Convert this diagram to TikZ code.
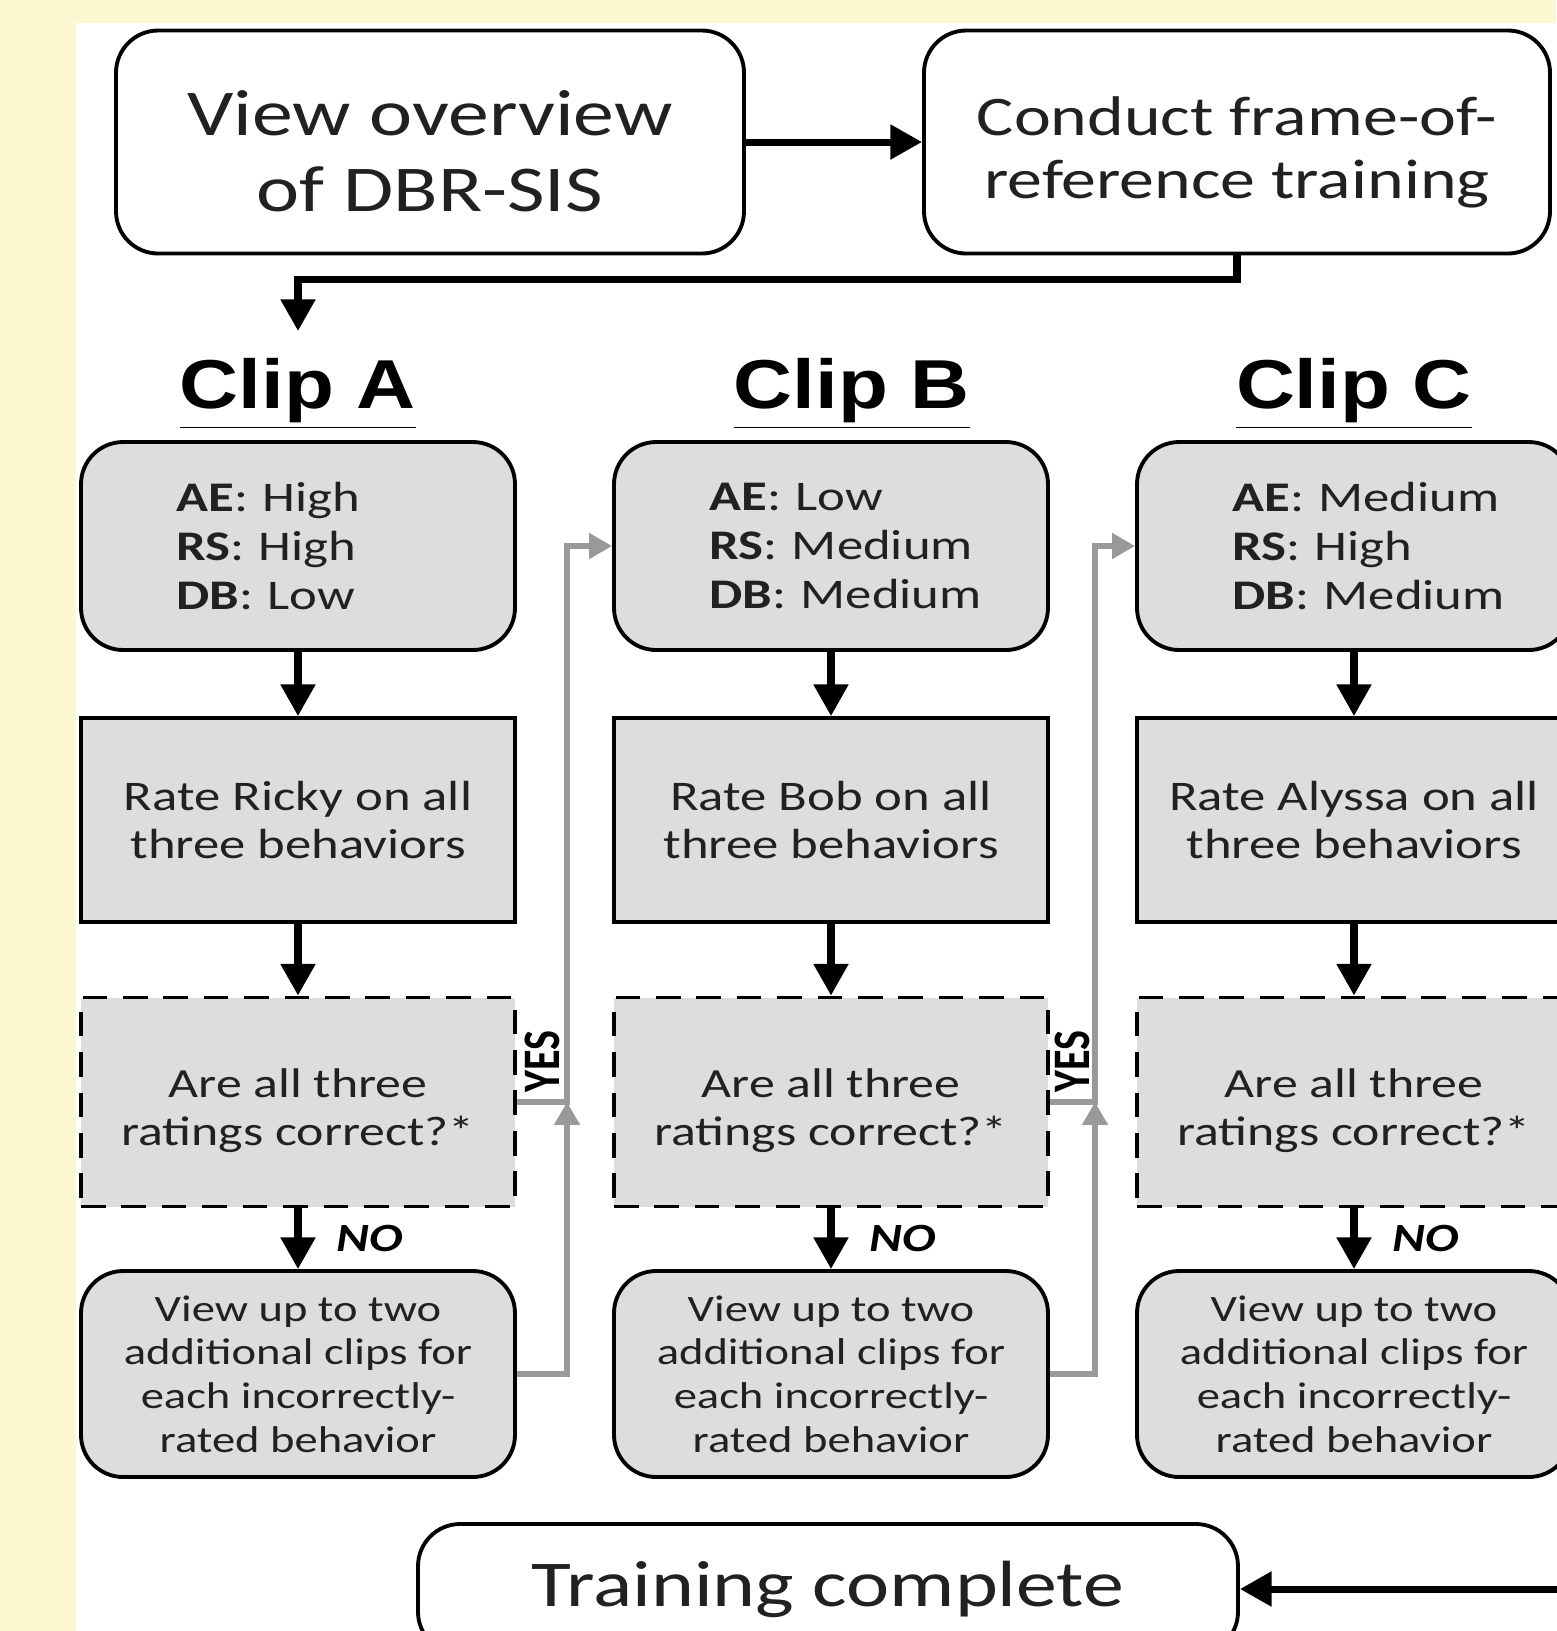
\documentclass[tikz,border=0pt]{standalone}
\usepackage{fontspec}
\usepackage{graphicx}
\setmainfont{Carlito}[FakeStretch=1.25]
\newfontfamily\headfont{Liberation Sans}[FakeStretch=1.18]
\newfontfamily\yesfont{Carlito}
\usetikzlibrary{arrows.meta,positioning}
\definecolor{paper}{rgb}{0.98, 0.969, 0.82}
\definecolor{boxgray}{rgb}{0.867, 0.867, 0.867}
\definecolor{linegray}{rgb}{0.6, 0.6, 0.6}
\definecolor{ink}{rgb}{0.13, 0.13, 0.13}
\tikzstyle{topbox}=[draw,line width=1.1pt,rounded corners=12pt,fill=white,minimum height=22.3mm,align=center,text=ink]
\tikzstyle{rowbox}=[draw,line width=1.1pt,fill=boxgray,minimum width=43.4mm,align=center,text=ink]
\tikzstyle{ratingsbox}=[rowbox,rounded corners=12pt,minimum height=20.8mm,align=left,text width=69pt,inner xsep=27pt,font=\fontsize{12}{14}\selectfont]
\tikzstyle{ratebox}=[rowbox,minimum height=20.4mm,font=\fontsize{12}{13.7}\selectfont]
\tikzstyle{checkbox}=[rowbox,dash pattern=on 7pt off 4.5pt,minimum height=20.9mm,font=\fontsize{11.8}{13.6}\selectfont]
\tikzstyle{reviewbox}=[rowbox,rounded corners=12pt,minimum height=20.6mm,font=\fontsize{10.6}{12.4}\selectfont]
\tikzstyle{cliphead}=[inner sep=0pt,font=\headfont\bfseries\fontsize{19.7}{23}\selectfont]
\tikzstyle{blackarrow}=[line width=2pt,-{Triangle[width=9.5pt,length=9pt]}]
\tikzstyle{yesline}=[linegray,line width=1.6pt]
\tikzstyle{yesarrow}=[yesline,-{Triangle[width=7pt,length=6.5pt]}]
\tikzstyle{yeslabel}=[black,rotate=90,anchor=west,inner sep=2pt,font=\yesfont\bfseries\fontsize{12}{12}\selectfont]
\tikzstyle{nolabel}=[right=10pt,inner sep=0pt,font=\bfseries\itshape\fontsize{11.4}{12}\selectfont]
% strut that pushes a box text a little down
\newcommand{\lowered}[1]{\rule{0pt}{#1}}
% one clip column: name, x, heading x, letter, ratings, student
\newcommand{\clipcolumn}[6]{
  \node[cliphead] (head#1) at (#3,394) {\underline{Clip #4}};
  \node[ratingsbox] (ratings#1) at (#2,546) {#5};
  \node[ratebox] (rate#1) at (#2,820) {Rate #6 on all\\three behaviors};
  \node[checkbox] (check#1) at (#2,1102) {\lowered{13pt}Are all three\\ratings correct?*};
  \node[reviewbox] (review#1) at (#2,1374) {View up to two\\additional clips for\\each incorrectly-\\rated behavior};
  \draw[blackarrow] (ratings#1) -- (rate#1);
  \draw[blackarrow] (rate#1) -- (check#1);
  \draw[blackarrow] (check#1) -- node[nolabel]{NO} (review#1);
}

\begin{document}
\begin{tikzpicture}[x=0.1mm,y=-0.1mm]
\useasboundingbox (0,0) rectangle (1556,1631);
\fill[paper] (0,0) rectangle (1556,1631);
\fill[white] (76,23) rectangle (1556,1631);

\node[topbox,minimum width=62.8mm,font=\fontsize{18.6}{21.6}\selectfont] (overview) at (430,142) {\lowered{18pt}View overview\\of DBR-SIS};
\node[topbox,minimum width=62.6mm,font=\fontsize{15.9}{17.8}\selectfont] (frame) at (1237,142) {\lowered{17pt}Conduct frame-of-\\reference training};
\draw[blackarrow] (overview) -- (frame);

\coordinate (startA) at (298,331);
\draw[blackarrow] (frame.south) -- ++(0,24) -| (startA);

\clipcolumn{A}{298}{298}{A}{\mbox{\textbf{AE}: High}\\\mbox{\textbf{RS}: High}\\\mbox{\textbf{DB}: Low}}{Ricky}
\clipcolumn{B}{831}{852}{B}{\mbox{\textbf{AE}: Low}\\\mbox{\textbf{RS}: Medium}\\\mbox{\textbf{DB}: Medium}}{Bob}
\clipcolumn{C}{1354}{1354}{C}{\mbox{\textbf{AE}: Medium}\\\mbox{\textbf{RS}: High}\\\mbox{\textbf{DB}: Medium}}{Alyssa}

% yes paths to the next clip
\coordinate (joinA) at (567,1102);
\draw[yesarrow] (reviewA.east) -| (joinA);
\draw[yesarrow] (checkA.east) -- node[yeslabel]{\scalebox{1}[1.25]{YES}} (joinA) |- (ratingsB.west);

\coordinate (joinB) at (1095,1102);
\draw[yesarrow] (reviewB.east) -| (joinB);
\draw[yesarrow] (checkB.east) -- node[yeslabel]{\scalebox{1}[1.25]{YES}} (joinB) |- (ratingsC.west);

\node[topbox,minimum width=82mm,minimum height=13mm,font=\fontsize{18.6}{21.6}\selectfont] (done) at (828,1589) {Training complete};
\coordinate (fromC) at (1570,1589);
\draw[blackarrow] (fromC) -- (done);

\end{tikzpicture}
\end{document}
